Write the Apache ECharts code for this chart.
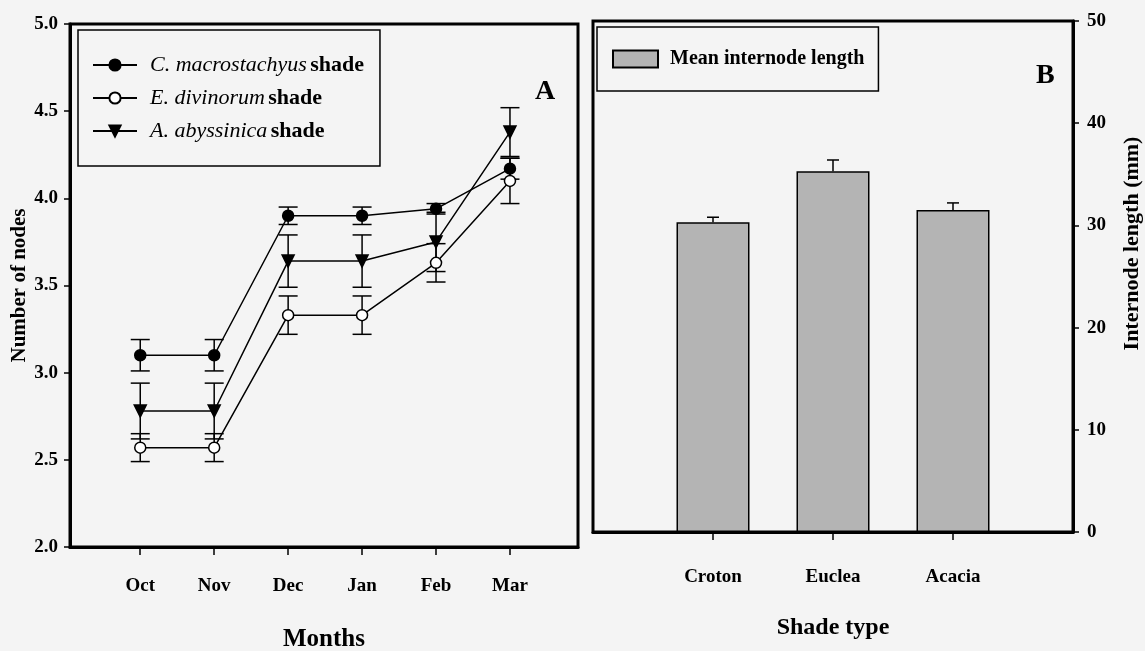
<!DOCTYPE html>
<html>
<head>
<meta charset="utf-8">
<script src="https://cdn.jsdelivr.net/npm/echarts@6/dist/echarts.min.js"></script>
<style>
html,body{margin:0;padding:0;background:#f4f4f4;}
#chart{width:1145px;height:651px;}
</style>
</head>
<body>
<div id="chart"></div>
<script>
// ---- Data (panel A) ----
const months = ['Oct', 'Nov', 'Dec', 'Jan', 'Feb', 'Mar'];
const monthIdx = [0, 1, 2, 3, 4, 5];
const cmName = 'C. macrostachyus shade';
const cmMean = [3.10, 3.10, 3.90, 3.90, 3.94, 4.17];
const cmErr  = [0.09, 0.09, 0.05, 0.05, 0.03, 0.06];
const edName = 'E. divinorum shade';
const edMean = [2.57, 2.57, 3.33, 3.33, 3.63, 4.10];
const edErr  = [0.08, 0.08, 0.11, 0.11, 0.11, 0.13];
const aaName = 'A. abyssinica shade';
const aaMean = [2.78, 2.78, 3.64, 3.64, 3.75, 4.38];
const aaErr  = [0.16, 0.16, 0.15, 0.15, 0.17, 0.14];

// ---- Data (panel B) ----
const shadeTypes = ['Croton', 'Euclea', 'Acacia'];
const shadeIdx = [0, 1, 2];
const barName = 'Mean internode length';
const internodeMean = [30.3, 35.3, 31.5];
const internodeErr  = [0.5, 1.1, 0.7];

const FONT = '"Liberation Serif", "Times New Roman", serif';

const pts = (means) => monthIdx.map((x, i) => [x, means[i]]);
const errs = (xs, means, e, upOnly) => xs.map((x, i) => [x, upOnly ? means[i] : means[i] - e[i], means[i] + e[i]]);

function errRender(capHalf, upOnly) {
  return function (params, api) {
    const x = api.value(0), lo = api.value(1), hi = api.value(2);
    const pHi = api.coord([x, hi]);
    const pLo = api.coord([x, lo]);
    const style = { stroke: '#000', lineWidth: 1.5, fill: null };
    const ch = [
      { type: 'line', shape: { x1: pHi[0], y1: pHi[1], x2: pLo[0], y2: pLo[1] }, style },
      { type: 'line', shape: { x1: pHi[0] - capHalf, y1: pHi[1], x2: pHi[0] + capHalf, y2: pHi[1] }, style }
    ];
    if (!upOnly) {
      ch.push({ type: 'line', shape: { x1: pLo[0] - capHalf, y1: pLo[1], x2: pLo[0] + capHalf, y2: pLo[1] }, style });
    }
    return { type: 'group', children: ch };
  };
}

const labelStyle = { fontFamily: FONT, fontWeight: 'bold', color: '#000' };
const richLegend = {
  i: { fontFamily: FONT, fontStyle: 'italic', fontSize: 22, color: '#000' },
  b: { fontFamily: FONT, fontWeight: 'bold', fontSize: 22, color: '#000' }
};

function lineSeries(name, means, symbol, fill, size, rotate) {
  return {
    type: 'line', name, xAxisIndex: 0, yAxisIndex: 0,
    data: pts(means), symbol, symbolSize: size, symbolRotate: rotate || 0,
    showAllSymbol: true, z: 5,
    lineStyle: { color: '#000', width: 1.5 },
    itemStyle: { color: fill, borderColor: '#000', borderWidth: 1.5 }
  };
}
function errSeries(means, e) {
  return {
    type: 'custom', xAxisIndex: 0, yAxisIndex: 0, z: 3,
    renderItem: errRender(9.5, false),
    encode: { x: 0, y: [1, 2] },
    data: errs(monthIdx, means, e, false), silent: true
  };
}

const chart = echarts.init(document.getElementById('chart'));
chart.setOption({
  backgroundColor: '#f4f4f4',
  animation: false,
  grid: [
    { left: 70, right: 567, top: 24, bottom: 104, show: true, borderColor: '#000', borderWidth: 3, backgroundColor: 'transparent', containLabel: false, outerBoundsMode: 'none' },
    { left: 593, right: 72, top: 21, bottom: 119, show: true, borderColor: '#000', borderWidth: 3, backgroundColor: 'transparent', containLabel: false, outerBoundsMode: 'none' }
  ],
  xAxis: [
    {
      type: 'value', gridIndex: 0, min: -0.95, max: 5.92,
      name: 'Months', nameLocation: 'middle', nameGap: 80,
      nameTextStyle: Object.assign({ fontSize: 25 }, labelStyle),
      axisLine: { show: true, onZero: false, lineStyle: { color: '#000', width: 3 } },
      axisTick: { show: true, length: 8, lineStyle: { color: '#000', width: 1.5 }, customValues: monthIdx },
      axisLabel: Object.assign({ fontSize: 19, margin: 30, customValues: monthIdx, formatter: v => months[Math.round(v)] }, labelStyle),
      splitLine: { show: false }
    },
    {
      type: 'value', gridIndex: 1, min: -1, max: 3,
      name: 'Shade type', nameLocation: 'middle', nameGap: 84,
      nameTextStyle: Object.assign({ fontSize: 24 }, labelStyle),
      axisLine: { show: true, onZero: false, lineStyle: { color: '#000', width: 3 } },
      axisTick: { show: true, length: 8, lineStyle: { color: '#000', width: 1.5 }, customValues: shadeIdx },
      axisLabel: Object.assign({ fontSize: 19, margin: 36, customValues: shadeIdx, formatter: v => shadeTypes[Math.round(v)] }, labelStyle),
      splitLine: { show: false }
    }
  ],
  yAxis: [
    {
      type: 'value', gridIndex: 0, min: 2, max: 5, interval: 0.5,
      name: 'Number of nodes', nameLocation: 'middle', nameGap: 38,
      nameTextStyle: Object.assign({ fontSize: 21 }, labelStyle),
      axisLine: { show: true, onZero: false, lineStyle: { color: '#000', width: 3 } },
      axisTick: { show: true, length: 6, lineStyle: { color: '#000', width: 1.5 } },
      axisLabel: Object.assign({ fontSize: 19, margin: 12, formatter: v => v.toFixed(1) }, labelStyle),
      splitLine: { show: false }
    },
    {
      type: 'value', gridIndex: 1, position: 'right', min: 0, max: 50, interval: 10,
      name: 'Internode length (mm)', nameLocation: 'middle', nameGap: 48,
      nameTextStyle: Object.assign({ fontSize: 22, padding: [0, 0, 0, 66] }, labelStyle),
      axisLine: { show: true, onZero: false, lineStyle: { color: '#000', width: 3 } },
      axisTick: { show: true, length: 6, lineStyle: { color: '#000', width: 1.5 } },
      axisLabel: Object.assign({ fontSize: 19, margin: 14 }, labelStyle),
      splitLine: { show: false }
    }
  ],
  legend: [
    {
      orient: 'vertical', left: 78, top: 30,
      data: [cmName, edName, aaName],
      borderColor: '#000', borderWidth: 1.5, borderRadius: 0,
      padding: [24, 16, 24, 14], itemGap: 11,
      itemWidth: 44, itemHeight: 14,
      textStyle: { rich: richLegend, padding: [0, 0, 0, 8] },
      formatter: n => {
        const k = n.lastIndexOf(' ');
        return '{i|' + n.slice(0, k) + '} {b|' + n.slice(k + 1) + '}';
      }
    },
    {
      orient: 'vertical', left: 597, top: 27,
      data: [barName],
      borderColor: '#000', borderWidth: 1.5, borderRadius: 0,
      padding: [22, 14, 22, 15],
      itemWidth: 45, itemHeight: 17, icon: 'rect',
      textStyle: Object.assign({ fontSize: 20, padding: [0, 0, 0, 7] }, labelStyle)
    }
  ],
  graphic: [
    { type: 'text', left: 535, top: 78, style: { text: 'A', font: 'bold 28px ' + FONT, fill: '#000' } },
    { type: 'text', left: 1036, top: 62, style: { text: 'B', font: 'bold 28px ' + FONT, fill: '#000' } }
  ],
  series: [
    errSeries(cmMean, cmErr),
    errSeries(edMean, edErr),
    errSeries(aaMean, aaErr),
    lineSeries(cmName, cmMean, 'circle', '#000', 11),
    lineSeries(edName, edMean, 'circle', '#ffffff', 11),
    lineSeries(aaName, aaMean, 'triangle', '#000', 12, 180),
    {
      type: 'bar', name: barName, xAxisIndex: 1, yAxisIndex: 1,
      data: shadeIdx.map((x, i) => [x, internodeMean[i]]),
      barWidth: 73,
      itemStyle: { color: '#b4b4b4', borderColor: '#000', borderWidth: 1.5 }
    },
    {
      type: 'custom', xAxisIndex: 1, yAxisIndex: 1, z: 3,
      renderItem: errRender(6, true),
      encode: { x: 0, y: [1, 2] },
      data: errs(shadeIdx, internodeMean, internodeErr, true), silent: true
    }
  ]
});
</script>
</body>
</html>
